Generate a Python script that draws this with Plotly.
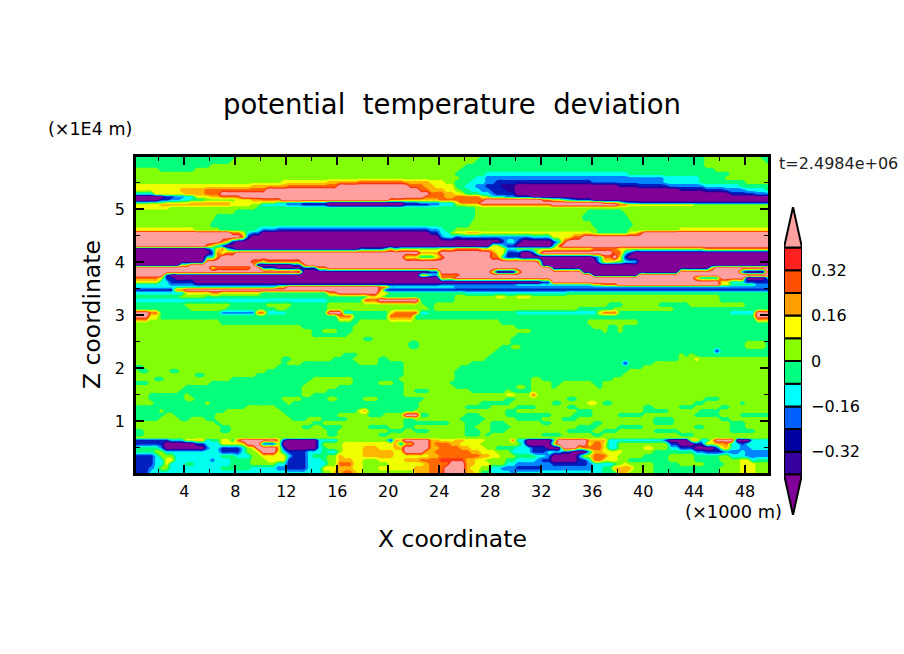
import plotly.graph_objects as go

# band letter -> value
BAND_VALUE = {"P": -0.5, "i": -0.36, "n": -0.28, "b": -0.2, "c": -0.12, "g": -0.04,
              "l": 0.04, "y": 0.12, "o": 0.2, "r": 0.28, "d": 0.36, "k": 0.5}
LEVELS = [-0.4, -0.32, -0.24, -0.16, -0.08, 0, 0.08, 0.16, 0.24, 0.32, 0.4]
BAND_COLORS = ["#3800a0", "#0000a0", "#0060ff", "#00ffff", "#00ff80",
               "#88ff00", "#ffff00", "#ffa000", "#ff5000", "#ff2020"]
LOW_COLOR = "#800098"
HIGH_COLOR = "#ffa0a0"
CBAR_TICKS = [-0.32, -0.16, 0, 0.16, 0.32]
CBAR_LABELS = ["\u22120.32", "\u22120.16", "0", "0.16", "0.32"]

# each row: "<band><x end in km>" runs, top to bottom
UPPER_Z = [5.98, 5.89, 5.81, 5.74, 5.66, 5.58, 5.51, 5.43, 5.36, 5.28, 5.23, 5.17, 5.11, 5.08,
           5.02, 4.96, 4.85, 4.70, 4.60, 4.55, 4.47, 4.38, 4.30, 4.25, 4.17, 4.09, 4.00, 3.94,
           3.89, 3.81, 3.75, 3.70, 3.62, 3.57, 3.53, 3.47, 3.42]
UPPER_ROWS = [
    "g8 l27.2 g44.9 l49.2 g50",
    "g7.6 l26.7 g44.9 l49.6 g50",
    "g6 l26 g45 l50",
    "l2 g5 l25.6 g45.8 l50",
    "l25.4 g27.7 c39 g46.7 l50",
    "l25.5 g26.8 c27.6 b41.5 c44.5 g46.5 l50",
    "l11.5 y15 o17.5 r21 o23 y24.5 l25 g26.4 c27.5 b28.3 n36 b41.5 c44.5 g48 l50",
    "y9 o11.8 r15.8 k21.5 r22.6 o23.6 y25 l25.3 g26 c26.8 b27.6 n28.8 i30 P38 i39.5 n42 b45 c47.5 g50",
    "y3.6 o5.5 r10.5 k22.3 r23.2 o24.5 y25.2 l25.6 g26.4 c27.2 b28 n29 i30 P43 i45 n46.5 b48 c49.5 g50",
    "c1.5 y4 o5.5 r7 k23 r24.3 o25.3 y26 g27 c27.8 b28.5 n30 P47 n49 b50",
    "P2.2 n3.2 b4 c5 y6 o7 r8.5 k22.8 r24.5 o25 r27 y27.6 l28 c29 b30 n31 P50",
    "P1.8 n2.8 b3.6 c4.5 g5.5 l8 y9 o10 r11.5 k19.8 r21 o24 r27.5 k32 r33 y33.5 g34 c34.5 b35 n36 P50",
    "g1 l2.5 y4.5 o7.5 y10 l11 c12 b13 n15 P21 n22.5 b24 c25 y25.5 r27 k37 r38 y38.5 c39 b39.5 n50",
    "y2 o7.5 y9 l10 c12 b13 n15 P21 n23 b24 c25 l26 y27 r33 k38 r39 y44 l50",
    "y3 l9.5 g26.7 l50",
    "l8 g26.8 l35.6 g38.5 l50",
    "l6.2 g26.8 l35.4 g39 l50",
    "l6 g26.5 l36 g39.1 l50",
    "y5 l7 g9.5 c10 b11 n23 b24 c24.5 g25 l36.2 g39 l43 y50",
    "k7.8 r8.2 y8.6 c9.2 b9.8 n10 P23 n24 c24.6 l25 y26 o27.3 y36 l36.2 g39 y39.5 r40 k50",
    "k8.3 r8.6 c8.9 n9 P24 b24.5 c25 n25.5 b31 c33 y34.5 r35.2 k50",
    "k7 r7.3 y7.5 c7.8 n8 P28.8 n29.2 c30 n30.4 P33 n33.2 c33.5 y33.7 r34 k50",
    "k5.6 r6 y6.4 c6.8 n7.2 P28 y28.6 c29.2 n30 P32.7 n33 c33.2 y33.4 r33.6 k50",
    "P5.5 n6 c6.4 y6.8 r7.2 c7.6 n8 P17.5 n19.5 c20 y20.4 c20.8 l24 y25 r27 y29 c30 l33 y36 r38 y45 r50",
    "P6 n6.2 y6.6 r7 y7.3 r8 k22.5 o24 k28 r28.5 y29 c29.3 n30.5 P31 n31.6 y32 k37.8 r38.2 y38.6 c39 n39.4 P50",
    "P5.8 c6.4 r7 k21 y22.5 g23.5 y24 r24.5 k28 r28.6 c29.4 n30.2 P36 n36.5 c36.8 y37 r37.5 k38 y38.6 n39 P50",
    "P5.6 n5.8 k9.3 r9.8 y10.5 r13 k31.5 r31.8 c32 P36.5 c37 y37.5 l38.5 c39.5 n39.8 P50",
    "P3.5 n3.8 y4.2 k9.4 n9.7 P12.5 n13 r13.5 k32 P50",
    "k6 y6.5 r9 k10 n11 P13 n14.5 r15 k32.8 n33 P45.2 c45.4 y45.7 k50",
    "k13 P23 n24 k27.8 y28.2 r28.4 P30 y30.4 k35.3 P43 k47.5 n48 P49.5 k50",
    "k2.6 n3 P22.5 y23 c24 r25.5 k36 P39.8 k50",
    "r2 y2.6 n3.4 P24 r25 k44 y44.5 c46 k48 P49.5 c50",
    "y2 c3 n5 P32 n33 k46 y47 c48 n50",
    "c3 b5 n24 b30 c36 y37 r38 k46 y47 g49 b50",
    "c11 y12 k19 r20 c25 b50",
    "n3.3 r4 k19 r19.5 n50",
    "c4 y6 r7 y10 g15 r16 k19 y20 g26 c34 g50",
]

MIDDLE_Z = [3.34, 3.28, 3.19, 3.11, 3.04, 2.98, 2.85, 2.77, 2.70, 2.62, 2.55, 2.47, 2.40, 2.32, 2.25,
            2.17, 2.09, 2.02, 1.94, 1.87, 1.79, 1.72, 1.64, 1.57, 1.49, 1.42, 1.34, 1.26, 1.19, 1.11,
            1.04, 0.96, 0.89, 0.81, 0.74, 0.68]
MIDDLE_ROWS = [
    "g3.5 l5.5 g18.5 y19.5 g25 l28.3 y29.3 l30 y31.4 l46 g50",
    "c15 g18 r19 k22.5 g25 l46 g50",
    "g4 l7.5 g10.4 l12.4 g15.3 l22.8 g23.7 l37.4 g38.6 l41.2 g43.8 l48 g50",
    "g4.6 l7.2 g11 l12 g15.3 l23 g23.7 l35 g37.7 l42.2 g50",
    "k1.4 r1.8 g7 b9.6 r10.3 c12 g15 k16.5 c17 g20 y20.5 r22.4 c23.4 g30 c36.4 y37 r38 g47 c48.7 k50",
    "k1.3 y2 g16 r17 g20 r22 g48.8 k50",
    "l6.8 g17.5 l28.9 g35.8 l39.5 g50",
    "l13 g17 l30 g36 l37.4 g38.1 l38.5 g50",
    "l13.8 g14.8 l16 g17 l31 g36.8 l37.4 g38.1 l38.5 g50",
    "l14 g16.6 l30 g50",
    "l17.8 g18.8 l29.7 g50",
    "l21.6 g22.3 l29.6 g48.1 l49.7 g50",
    "l21.6 g22.4 l28.8 g29.5 l30.2 g48 l48.8 g49 l49.8 g50",
    "l28.5 g45.6 n46.1 g50",
    "l16.2 g17.5 l28 g42.8 l43.3 g43.6 l44 g50",
    "l11.5 g12.2 l15.6 g17.2 l19.3 g20 l27.5 g42.9 l44 y44.4 l50",
    "l11.5 g12 l13.3 g17.5 l19 g21 l26.2 g38.4 n38.9 g41 l50",
    "g0.8 l11 g21.3 l25.6 g40 l50",
    "l0.5 g1 l3 g3.6 l10.5 g21.3 l25.3 g39 l50",
    "l4.7 g5.6 l9.4 g21.3 l25 g38.2 l50",
    "l1.5 g2.5 l6.2 g6.6 l7.8 g13.8 l17.2 g20.8 l25 g31.4 l32 g37.7 l50",
    "g1 l6 g13.5 l17 g19.3 l20.3 g21 l24.8 g31.2 l32.7 g33.8 l36.1 g36.9 l50",
    "l3.9 g13.3 l16 g21.1 l23 g23.4 l25.4 g29.8 l30.6 g31.3 l32.7 g33.2 l36.4 g37 l50",
    "l3.6 g13 l15 g21 l22 g23.3 l26.4 g29 l29.5 g31.2 l50",
    "l1 g4 l4.4 g13.2 l14 g21.2 l29.4 y30 l31 r31.6 l50",
    "l1.2 g4 l4.8 g11.7 l13.3 g15 l16 g18 l19 g22.6 l29 g30 l34 g35 l45 g46 l50",
    "l1.6 g5.6 l6 g12 l12.5 g22.4 l27 g29.6 l33 g33.6 l35.5 y36.2 l37 g37.6 l44 g45 l47.5 g48 l50",
    "g8.9 l11.2 g22.4 l26 g28 l30 g31.5 l34 g35 l40 g41 l43 g44 l46 g47 l50",
    "g2 l2.6 g7.3 l11.6 g17.5 y18 o18.4 g19 y19.4 g22 l29 g30 l35 g36 l40 g42 l44.6 g46 l50",
    "g2.5 l3.3 g6.5 l12 g16 l18.5 g19.6 l21 k22.2 g23 l26 g27 l29 g33 l34.5 g36 l38 g40 l44 g46 l47.5 g50",
    "g2 l3.5 g4.6 l5.4 g6.4 l12.5 g13.5 l14.8 g16.6 l21.4 g22 l25.6 g27.5 l30 g32 l33.5 g35 l41 g42.5 l46 g47 l50",
    "l6.6 g7 l14 g14.6 l21 g24.8 l26 g27 l28 g29 l32 g33 l36 g37 l41 g42.5 l47 g48 l50",
    "l7 g7.6 l13.3 g14 l14.8 g16.5 l18.5 g20 l21 g22 l26 g26.8 l28 g29.5 l35 g36.5 l38 g40 l44 g45 l47 g48 l50",
    "g0.8 l7 g7.6 l15 g15.8 l20 g21 l22 g23 l26 g27 l28 g29 l34 g36 l37 g38 l41 g43 l47 g49 l50",
    "g0.8 l15 g15.8 l19 g20 l26 g27 l27.5 g28 l32 g33.6 l36 g37 l43 g44 l50",
    "l50",
]

LOWER_Z = [0.64, 0.57, 0.49, 0.42, 0.34, 0.26, 0.19, 0.11, 0.02]
LOWER_ROWS = [
    "n3 c4 y5 o5.6 c6 g7 y7.5 g8 r8.5 k11 o11.5 n12 P14.2 n14.5 c16 l20 n20.5 o21 k23 o24 y25 o26 y27.5 l29.6 r30 c30.8 P33 c33.2 k35.6 o37.2 c41.6 n42 P43.6 o44.2 c45.3 y45.6 k47.3 P48.4 c50",
    "n2.4 P5 n5.8 c7 y8.6 k10 n11.3 y11.5 P14.4 c14.8 l16.5 y20.4 o20.8 c21.1 o21.8 k23.2 o23.6 r24.8 o25.6 y27 l30.4 c30.8 P33 y33.4 k35.6 y36 r36.8 y37.4 c38 l42 n42.8 P44 n45 y45.8 o46.4 r47 c47.6 n48 c50",
    "c0.4 g2 b2.6 P5.5 b6 c6.8 n8.2 c8.6 l9 y9.5 k11 o11.5 n12 P14.3 c14.6 g15 l16.5 y18 o19 y20.4 o21.4 k23.2 o24 r25.6 o26.5 y27.6 l28.5 g30 c31 b31.4 n32.2 P33.5 c33.8 k35 y35.4 r36.8 y37.4 c38 l40 y41 l42 c43 n44 P45.5 n46 y46.4 o47 c47.6 b48.6 c50",
    "g1.5 l2.5 c7 n8.4 c8.8 l9.6 y10 k11.2 y11.6 c12 n13.6 c14.6 g15 c16 l16.5 y18 o20.2 y21 k22.8 o23.6 r26.2 o27 y28.4 l29.5 c31 n32.4 c33.5 n34.5 P35.7 c36 o37 y38.5 l41 g44 b45 n46.5 b47.5 c48 b50",
    "n1.6 c2 l3.2 c7 g8 c9 l10 y12 c12.2 n13.4 c14 g15 l15.8 o16.4 y18 o20.5 y23 o24 r27.2 o28 y28.8 l30 g31.6 c32.5 b33 P35 b35.4 y36 r37.2 y38 l40 g42 l44 g46 l47 c48 b50",
    "n1.7 c2.2 y3.2 c6 b6.3 c7.5 g9.2 l10.5 y11.8 c12 n13.5 c14.6 g15.2 l15.8 o17 y17.8 l19 y21 o22.4 r23.8 d25.8 o26.6 y27.6 l29 g30 c31.5 b32 n33 P35 n35.5 c36 r37 y38 l39 g42 l44 g46 l47.5 y48.4 c49 g50",
    "n1.5 c2.2 y3 c4 g5 c7.5 g9 l11 c12 n13.5 c15 l15.8 r17 y18 l20 y22.6 o23.2 r24.6 k26 o26.8 y28 l29 c30 b33 n35.5 b36 c37.5 g38 l38.5 y39 l41 g43 l45 g46.5 l47.6 y48.8 l50",
    "n1.2 b1.6 c2 l3 c7 g9 c11 b12 n13.4 c14.8 y16 o17 y18 l19 y22 o23 r24.2 k26 o26.5 y27.4 l28 c28.8 b30 n32 b36 c37 g37.8 o39.2 l41 g46 l47.5 y49 l50",
    "n1 b1.4 c14.8 l15.4 o16.2 r17 o17.4 y18 l22 o23 r24.4 k26 o26.6 y27.2 g28 c29.5 b30 c37 g38 o39 l41 g46 l47.5 y49 l50",
]

X_CENTERS = [0.2 + 0.4 * i for i in range(125)]
X_TICKS = list(range(4, 49, 4))
Z_TICKS = [1, 2, 3, 4, 5]

W, H = 904, 654


def row_values(row):
    runs = [(float(r[1:]), r[0]) for r in row.split()]
    out = []
    for x in X_CENTERS:
        for end, band in runs:
            if x <= end:
                out.append(BAND_VALUE[band])
                break
        else:
            out.append(BAND_VALUE[runs[-1][1]])
    return out


rows = UPPER_ROWS + MIDDLE_ROWS + LOWER_ROWS
zs = UPPER_Z + MIDDLE_Z + LOWER_Z
assert len(rows) == len(zs), (len(rows), len(zs))
pairs = sorted(zip(zs, rows))
grid = [row_values(r) for _, r in pairs]
ys = [p[0] for p in pairs]

# stepped colour scale: each band's middle value gets its colour
span = LEVELS[-1] - LEVELS[0]
scale = [[0, LOW_COLOR]]
for i, c in enumerate(BAND_COLORS):
    scale.append([(LEVELS[i] + 0.04 - LEVELS[0]) / span, c])
scale.append([1, HIGH_COLOR])

fig = go.Figure()
fig.add_trace(go.Contour(
    x=X_CENTERS, y=ys, z=grid, colorscale=scale, showscale=False, hoverinfo="skip",
    line=dict(width=0),
    contours=dict(coloring="fill", showlines=False, start=LEVELS[0], end=LEVELS[-1], size=0.08),
))

# colour bar with triangular ends
for i, c in enumerate(BAND_COLORS):
    fig.add_trace(go.Bar(x=[0.5], y=[LEVELS[i + 1] - LEVELS[i]], base=[LEVELS[i]], width=[1],
                         marker=dict(color=c, line=dict(color="black", width=2)),
                         xaxis="x2", yaxis="y2", cliponaxis=False, showlegend=False, hoverinfo="skip"))
APEX = 0.143
fig.add_trace(go.Scatter(x=[0, 0.5, 1, 0], y=[LEVELS[-1], LEVELS[-1] + APEX, LEVELS[-1], LEVELS[-1]],
                         fill="toself", fillcolor=HIGH_COLOR, mode="lines", line=dict(color="black", width=2),
                         xaxis="x2", yaxis="y2", cliponaxis=False, showlegend=False, hoverinfo="skip"))
fig.add_trace(go.Scatter(x=[0, 0.5, 1, 0], y=[LEVELS[0], LEVELS[0] - APEX, LEVELS[0], LEVELS[0]],
                         fill="toself", fillcolor=LOW_COLOR, mode="lines", line=dict(color="black", width=2),
                         xaxis="x2", yaxis="y2", cliponaxis=False, showlegend=False, hoverinfo="skip"))

FONT = "DejaVu Sans"
tick_font = dict(family=FONT, size=16, color="black")


def label(text, px, py, size, **kw):
    fig.add_annotation(text=text, x=px / W, y=1 - py / H, xref="paper", yref="paper", showarrow=False,
                       xanchor="center", yanchor="middle",
                       font=dict(family=FONT, size=size, color=kw.pop("color", "black")), **kw)


label("potential  temperature  deviation", 452, 104, 27.5)
label("(\u00d71E4 m)", 90, 129, 17.5)
label("Z coordinate", 92, 315, 23.5, textangle=-90)
label("X coordinate", 452, 539, 23.5)
label("(\u00d71000 m)", 733, 511, 17.8)
label("t=2.4984e+06", 838, 163, 16, color="#222222")

fig.update_layout(
    width=W, height=H, autosize=False, margin=dict(l=0, r=0, t=0, b=0),
    paper_bgcolor="white", plot_bgcolor="white", showlegend=False, barmode="overlay",
    xaxis=dict(domain=[136 / W, 768 / W], range=[X_CENTERS[0], X_CENTERS[-1]], tickmode="array",
               tickvals=X_TICKS, ticks="inside", ticklen=8, tickwidth=2, tickcolor="black",
               showline=True, linecolor="black", linewidth=2.5, mirror="allticks", showgrid=False, zeroline=False,
               tickfont=tick_font, ticklabelstandoff=2,
               minor=dict(dtick=2, tick0=0, ticks="inside", ticklen=4, tickwidth=1, tickcolor="black", showgrid=False)),
    yaxis=dict(domain=[1 - 473 / H, 1 - 157 / H], range=[ys[0], ys[-1]], tickmode="array",
               tickvals=Z_TICKS, ticks="inside", ticklen=8, tickwidth=2, tickcolor="black",
               showline=True, linecolor="black", linewidth=2.5, mirror="allticks", showgrid=False, zeroline=False,
               tickfont=tick_font, ticklabelstandoff=5,
               minor=dict(dtick=0.5, tick0=0, ticks="inside", ticklen=4, tickwidth=1, tickcolor="black", showgrid=False)),
    xaxis2=dict(domain=[784 / W, 802 / W], range=[0, 1], anchor="y2", visible=False, fixedrange=True),
    yaxis2=dict(domain=[1 - 515 / H, 1 - 207 / H], range=[LEVELS[0] - APEX, LEVELS[-1] + APEX], anchor="x2",
                side="right", tickmode="array", tickvals=CBAR_TICKS, ticktext=CBAR_LABELS, ticks="",
                showgrid=False, zeroline=False, showline=False, tickfont=tick_font, ticklabelstandoff=8),
)

fig.write_html("out.html", config=dict(displayModeBar=False), post_script="document.body.style.margin='0';")
